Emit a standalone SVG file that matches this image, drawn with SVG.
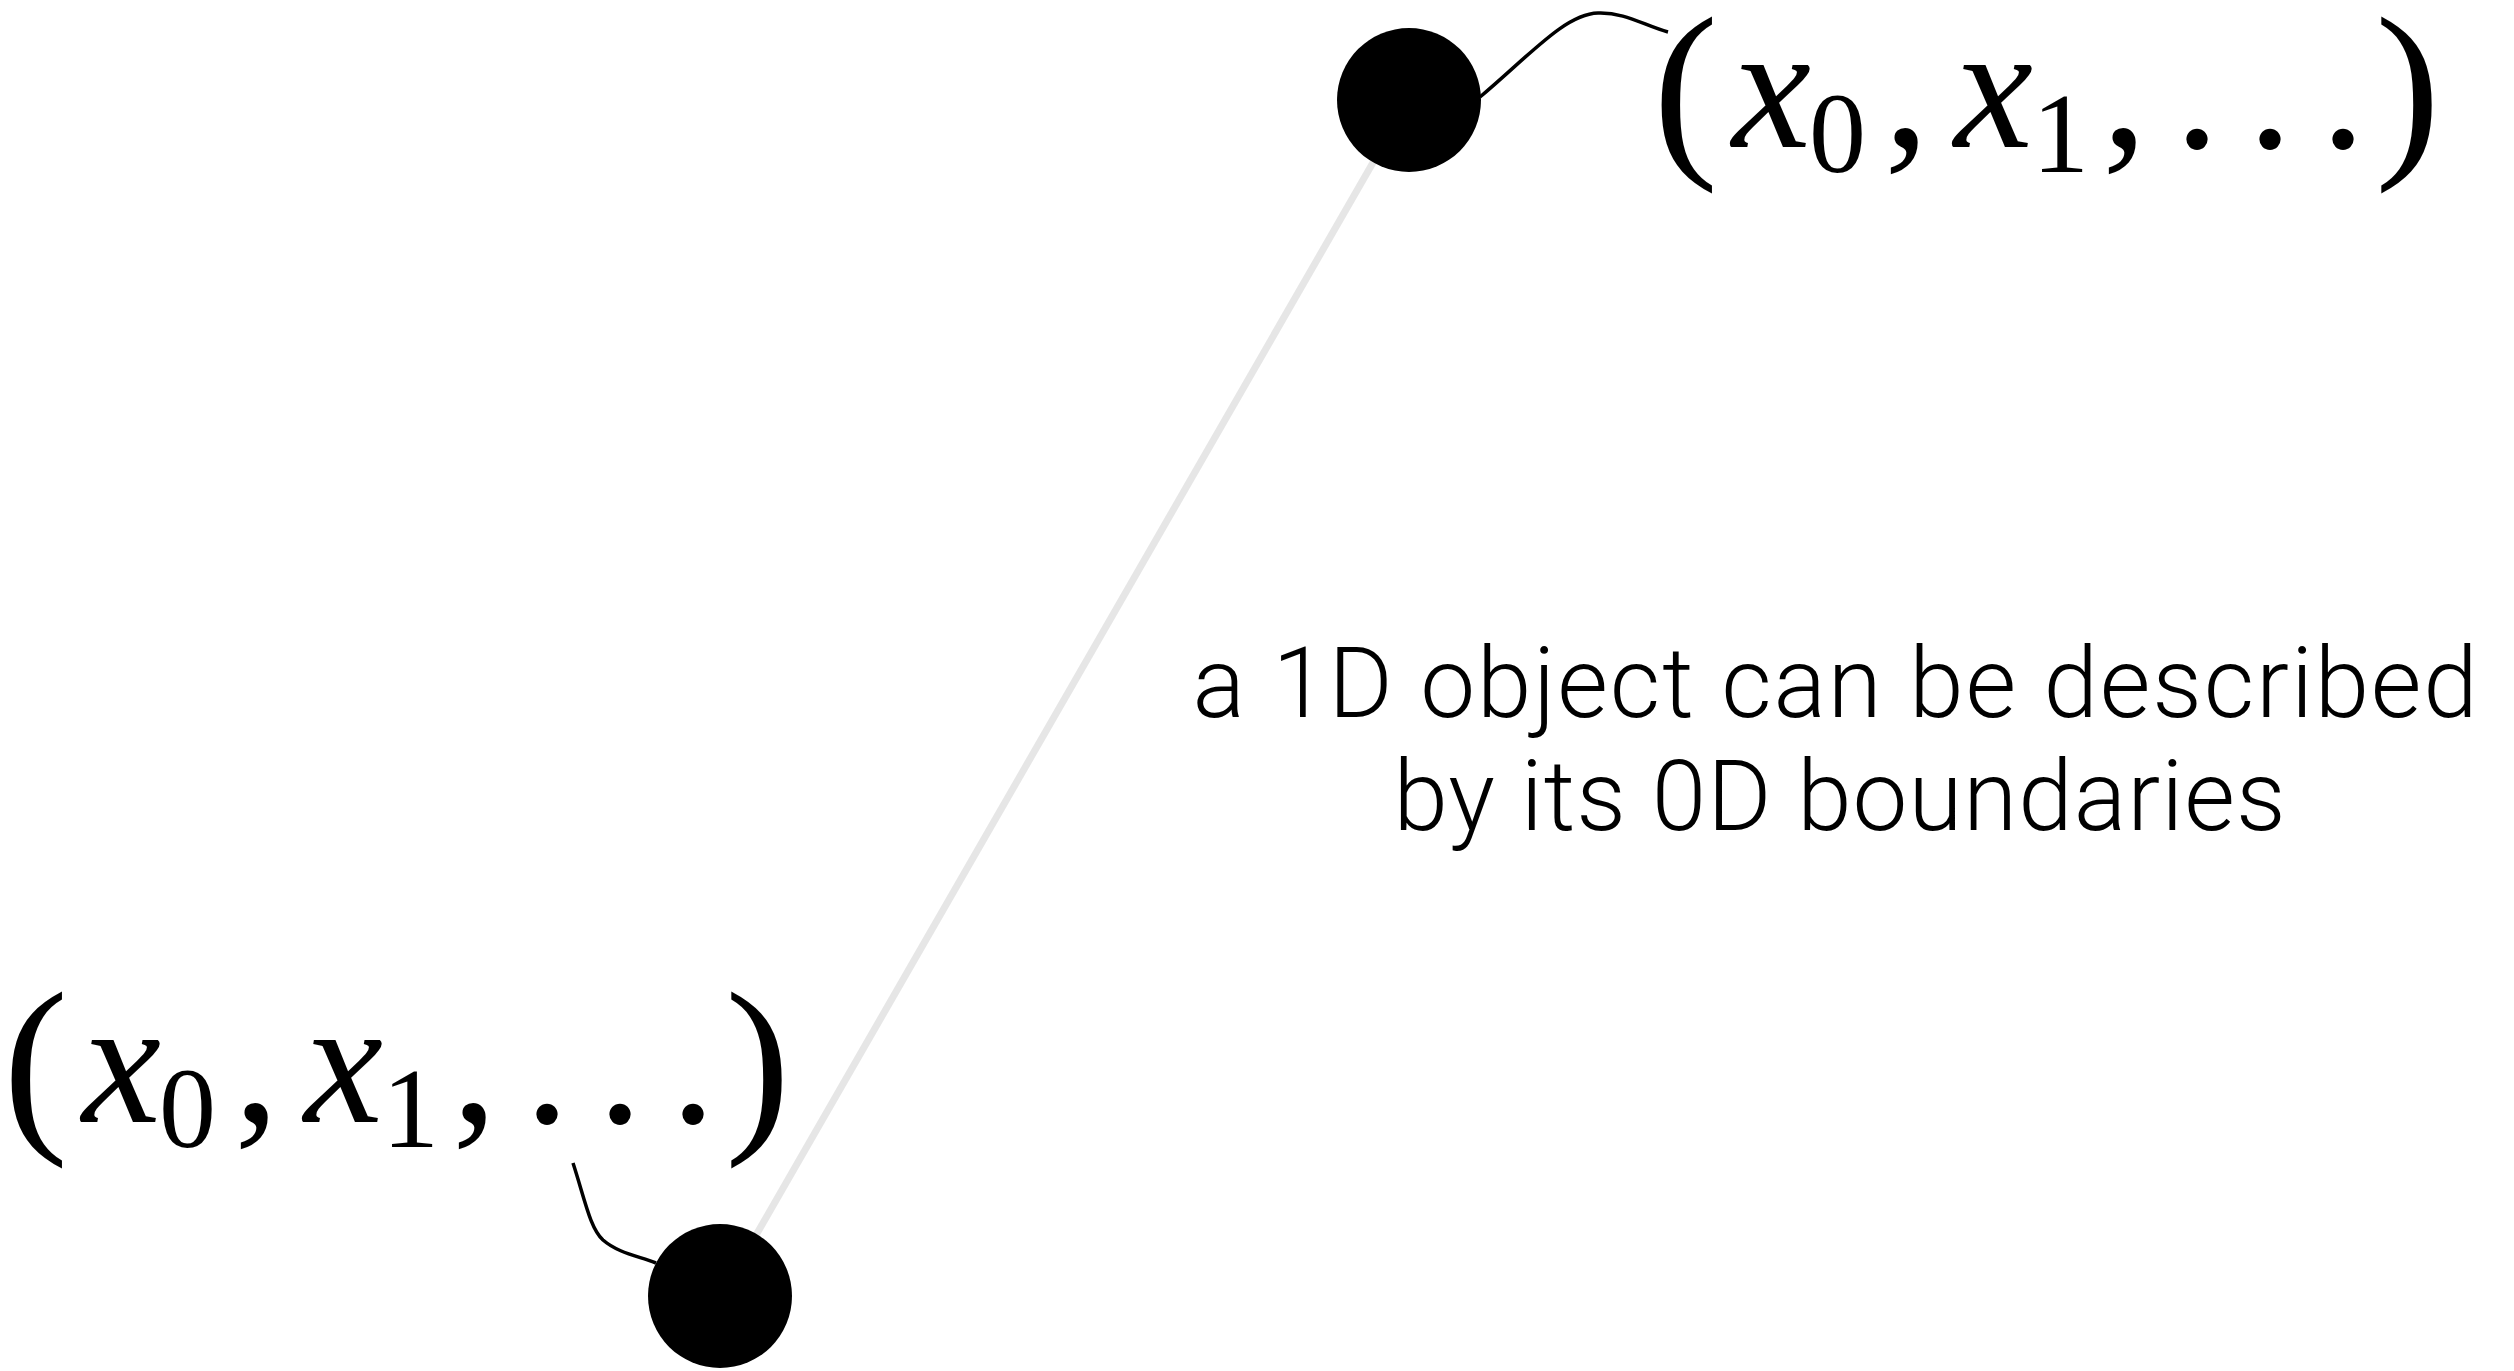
<svg xmlns="http://www.w3.org/2000/svg" width="2514" height="1371" viewBox="0 0 2514 1371">
<style>
.m{font-family:"Liberation Serif","Times New Roman",serif;fill:#000}
.it{font-style:italic;font-size:178px}
.rg{font-size:180px}
.sb{font-size:114px}
.pr{font-size:196px}
.cap{font-family:Roboto,"Liberation Sans",sans-serif;font-weight:300;font-size:98px;letter-spacing:1.8px;fill:#000;text-anchor:middle}
.cap2{letter-spacing:1px}
.lead{fill:none;stroke:#000;stroke-width:3.5}
</style>
<rect width="2514" height="1371" fill="#fff"/>
<g id="connectors">
<line x1="1409" y1="100" x2="721" y2="1296" stroke="#e6e6e6" stroke-width="7"/>
<path class="lead" d="M1480,97 C1530,55 1565,14 1598,13 C1625,12 1645,26 1668,32"/>
<path class="lead" d="M573,1163 C585,1200 590,1228 603,1240 C618,1253 638,1256 656,1263"/>
</g>
<g id="node-top">
<circle cx="1409" cy="100" r="72" fill="#000"/>
</g>
<g id="node-bottom">
<circle cx="720" cy="1296" r="72" fill="#000"/>
</g>
<g id="label-top">
<text class="m pr" x="1653" y="152">(</text>
<text class="m it" x="1732" y="147">x</text>
<text class="m sb" x="1809" y="172">0</text>
<text class="m rg" x="1884" y="147">,</text>
<text class="m it" x="1954" y="147">x</text>
<text class="m sb" x="2032" y="172">1</text>
<text class="m rg" x="2102" y="147">,</text>
<text class="m rg" x="2174.5" y="147">.</text>
<text class="m rg" x="2247.5" y="147">.</text>
<text class="m rg" x="2320.5" y="147">.</text>
<text class="m pr" x="2375" y="152">)</text>
</g>
<g id="label-bottom" transform="translate(-1650,975)">
<text class="m pr" x="1653" y="152">(</text>
<text class="m it" x="1732" y="147">x</text>
<text class="m sb" x="1809" y="172">0</text>
<text class="m rg" x="1884" y="147">,</text>
<text class="m it" x="1954" y="147">x</text>
<text class="m sb" x="2032" y="172">1</text>
<text class="m rg" x="2102" y="147">,</text>
<text class="m rg" x="2174.5" y="147">.</text>
<text class="m rg" x="2247.5" y="147">.</text>
<text class="m rg" x="2320.5" y="147">.</text>
<text class="m pr" x="2375" y="152">)</text>
</g>
<g id="caption">
<text class="cap" x="1836" y="717">a 1D object can be described</text>
<text class="cap cap2" x="1840" y="830">by its 0D boundaries</text>
</g>
</svg>
